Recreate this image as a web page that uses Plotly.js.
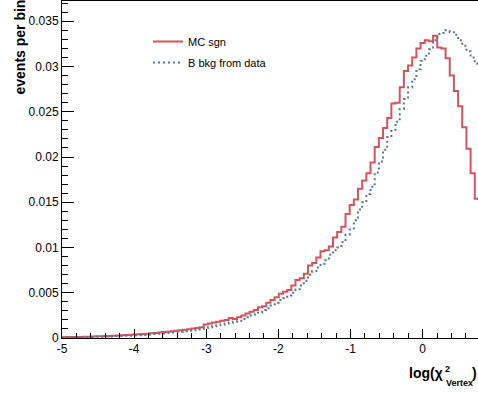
<!DOCTYPE html>
<html>
<head>
<meta charset="utf-8">
<script src="https://cdn.plot.ly/plotly-3.0.1.min.js"></script>
<style>html,body{margin:0;padding:0;background:#fff;}#chart{width:478px;height:394px;}</style>
</head>
<body>
<div id="chart"></div>
<script>
// Histogram binning (100 bins starting at log(chi2) = -5)
const binLow = -5;
const binWidth = 0.0578;

// Series names
const seriesNames = ["MC sgn", "B bkg from data"];

// Bin contents
const mcSignal = [
  0.00008,0.0001,0.0001,0.00012,0.00012,0.00014,0.00015,0.00016,0.00018,0.0002,
  0.00022,0.00023,0.00025,0.00028,0.0003,0.00033,0.00035,0.00038,0.00042,0.00045,
  0.00048,0.00052,0.00055,0.0006,0.00065,0.0007,0.00074,0.0008,0.00085,0.0009,
  0.00098,0.00105,0.0011,0.0012,0.0015,0.0016,0.0017,0.0018,0.0019,0.0020,
  0.0022,0.0021,0.0023,0.0025,0.0027,0.0029,0.0031,0.0034,0.0035,0.0039,
  0.0042,0.0045,0.0049,0.0051,0.0053,0.0058,0.0064,0.0066,0.0071,0.0080,
  0.0083,0.0089,0.0096,0.0097,0.0101,0.0111,0.0117,0.0123,0.0137,0.0147,
  0.0153,0.0165,0.0174,0.0182,0.0194,0.0211,0.0221,0.0232,0.0243,0.0259,
  0.0260,0.0277,0.0295,0.0301,0.0310,0.0320,0.0326,0.0329,0.0328,0.0334,
  0.0321,0.0320,0.0309,0.0290,0.0273,0.0256,0.0233,0.0209,0.0182,0.0154
];
const bBkgData = [
  0.00005,0.00006,0.00007,0.00008,0.00009,0.0001,0.00011,0.00012,0.00013,0.00014,
  0.00016,0.00017,0.00019,0.0002,0.00022,0.00024,0.00026,0.00029,0.00031,0.00034,
  0.00037,0.0004,0.00043,0.00047,0.0005,0.00055,0.0006,0.00064,0.0007,0.00075,
  0.0008,0.00086,0.00092,0.0010,0.0011,0.0012,0.0013,0.0014,0.0015,0.0016,
  0.0017,0.0018,0.0019,0.0021,0.0023,0.0025,0.0026,0.0028,0.0031,0.0033,
  0.0036,0.0039,0.0042,0.0044,0.0047,0.0050,0.0054,0.0058,0.0063,0.0070,
  0.0074,0.0078,0.0082,0.0086,0.0092,0.0097,0.0100,0.0106,0.0114,0.0120,
  0.0130,0.0142,0.0150,0.0159,0.0167,0.0183,0.0195,0.0208,0.0222,0.0230,
  0.0239,0.0253,0.0264,0.0277,0.0286,0.0297,0.0306,0.0312,0.0319,0.0329,
  0.0336,0.0337,0.0340,0.0338,0.0335,0.0329,0.0323,0.0317,0.0310,0.0303
];

// Axis ticks
const xTickVals = [-5, -4, -3, -2, -1, 0];
const xTickText = ["-5", "-4", "-3", "-2", "-1", "0"];
const yTickVals = [0, 0.005, 0.01, 0.015, 0.02, 0.025, 0.03, 0.035];
const yTickText = ["0", "0.005", "0.01", "0.015", "0.02", "0.025", "0.03", "0.035"];

function stepTrace(vals, name, color, dash) {
  const x = [], y = [];
  for (let k = 0; k < vals.length; k++) { x.push(binLow + k * binWidth); y.push(vals[k]); }
  x.push(binLow + vals.length * binWidth); y.push(vals[vals.length - 1]);
  return {
    type: "scatter", mode: "lines", x: x, y: y, name: name,
    line: { shape: "hv", color: color, width: 2, dash: dash },
    legendgroup: name, hoverinfo: "skip", cliponaxis: true
  };
}

const font = "Liberation Sans, Arial, Helvetica, sans-serif";
const W = 478, H = 394, L = 62, R = 0, T = 1, B = 56;
const pw = W - L - R, ph = H - T - B;
const px = v => (v - L) / pw;          // pixel -> paper x
const py = v => (H - B - v) / ph;      // pixel -> paper y

const data = [
  stepTrace(mcSignal, seriesNames[0], "#d2555b", "solid"),
  stepTrace(bBkgData, seriesNames[1], "#5b7490", "2px,3px")
];

const layout = {
  width: W, height: H,
  margin: { l: L, r: R, t: T, b: B, pad: 0 },
  paper_bgcolor: "#fff", plot_bgcolor: "#fff",
  font: { family: font, size: 12, color: "#000" },
  showlegend: true,
  legend: {
    x: px(148), y: py(27), xanchor: "left", yanchor: "top",
    bgcolor: "rgba(0,0,0,0)", font: { family: font, size: 11, color: "#000" },
    traceorder: "grouped", tracegroupgap: 2, itemwidth: 30
  },
  xaxis: {
    range: [-5, 0.767], showgrid: false, zeroline: false,
    showline: true, linecolor: "#000", linewidth: 1, mirror: true,
    ticks: "inside", ticklen: 9, tickcolor: "#000", tickwidth: 1,
    tickvals: xTickVals, ticktext: xTickText,
    tickfont: { family: font, size: 12, color: "#000" },
    minor: { ticks: "inside", ticklen: 5, dtick: 0.2, tickcolor: "#000", showgrid: false }
  },
  yaxis: {
    range: [0, 0.03724], showgrid: false, zeroline: false,
    showline: true, linecolor: "#000", linewidth: 1,
    ticks: "inside", ticklen: 12, tickcolor: "#000", tickwidth: 1,
    tickvals: yTickVals, ticktext: yTickText,
    tickfont: { family: font, size: 12, color: "#000" },
    minor: { ticks: "inside", ticklen: 6, dtick: 0.001, tickcolor: "#000", showgrid: false }
  },
  annotations: [
    { text: "<b>events per bin</b>", textangle: -90, xref: "paper", yref: "paper",
      x: px(9), y: py(-2), xanchor: "left", yanchor: "top", showarrow: false,
      font: { family: font, size: 14, color: "#000" } },
    { text: "<b>log(χ</b>", xref: "paper", yref: "paper",
      x: px(445), y: py(373), xanchor: "right", yanchor: "middle", showarrow: false,
      font: { family: font, size: 14, color: "#000" } },
    { text: "<b>2</b>", xref: "paper", yref: "paper",
      x: px(443), y: py(369), xanchor: "left", yanchor: "middle", showarrow: false,
      font: { family: font, size: 9, color: "#000" } },
    { text: "<b>Vertex</b>", xref: "paper", yref: "paper",
      x: px(444), y: py(383), xanchor: "left", yanchor: "middle", showarrow: false,
      font: { family: font, size: 9, color: "#000" } },
    { text: "<b>)</b>", xref: "paper", yref: "paper",
      x: px(479), y: py(373), xanchor: "right", yanchor: "middle", showarrow: false,
      font: { family: font, size: 14, color: "#000" } }
  ]
};

Plotly.newPlot("chart", data, layout, { staticPlot: true, displayModeBar: false });
</script>
</body>
</html>
